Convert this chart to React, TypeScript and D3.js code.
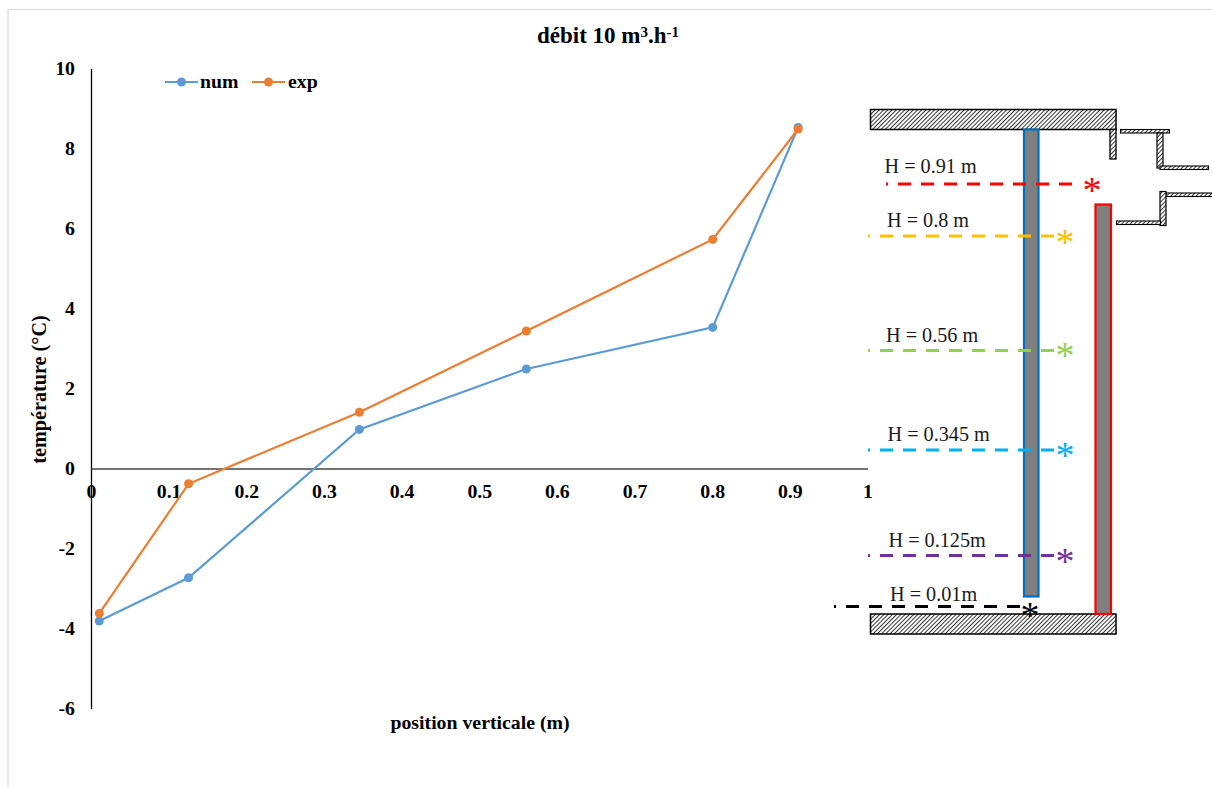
import React from "react";
import * as d3 from "d3";

const positions = [0.01, 0.125, 0.345, 0.56, 0.8, 0.91];
const numValues = [-3.8, -2.72, 0.99, 2.5, 3.54, 8.54];
const expValues = [-3.61, -0.37, 1.42, 3.45, 5.74, 8.5];
const xTicks = [0, 0.1, 0.2, 0.3, 0.4, 0.5, 0.6, 0.7, 0.8, 0.9, 1];
const yTicks = [-6, -4, -2, 0, 2, 4, 6, 8, 10];
const seriesNames = ["num", "exp"];
const gaugeLabels = ["H = 0.91 m", "H = 0.8 m", "H = 0.56 m", "H = 0.345 m", "H = 0.125m", "H = 0.01m"];

const NUM_COLOR = "#5b9bd5";
const EXP_COLOR = "#ed7d31";
const SERIF = "'Liberation Serif', serif";
const gaugeColors = ["#ff0000", "#ffc000", "#92d050", "#00b0f0", "#7030a0", "#000000"];
// layout of the test-cell sketch: [x1, x2, y, labelX, labelY, starX, starY]
const gaugeLayout = [
  [886, 1074, 184, 884.5, 173, 1092, 203],
  [868, 1054, 236, 887, 227, 1065, 255],
  [868, 1054, 350.5, 886, 342, 1065, 368],
  [868, 1054, 450, 887.5, 441, 1065, 468],
  [868, 1056, 555.5, 888.5, 547, 1065, 574],
  [834, 1022, 606.5, 890, 601, 1030, 628],
];
// hatched walls: [x, y, w, h, strokeWidth]
const walls = [
  [870.5, 109.5, 245.5, 20, 1.5],
  [870.5, 614, 245.5, 20, 1.5],
  [1110, 129.5, 6, 29.5, 1.3],
  [1120.5, 129.5, 49, 3.5, 1.1],
  [1157, 133, 6, 35, 1.2],
  [1160, 166, 48.5, 3.5, 1.1],
  [1166, 193, 47, 3.5, 1.1],
  [1160, 191.5, 6, 34, 1.2],
  [1116.5, 221, 44, 3.5, 1.1],
];

export default function App() {
  const x = d3.scaleLinear().domain([0, 1]).range([91.5, 868]);
  const y = d3.scaleLinear().domain([-6, 10]).range([709, 69]);
  const line = d3.line<number>()
    .x((_, i) => x(positions[i]))
    .y((d) => y(d));
  const series = [
    { values: numValues, color: NUM_COLOR },
    { values: expValues, color: EXP_COLOR },
  ];
  const bold = { fontFamily: SERIF, fontWeight: 700, fontSize: 19.8, fill: "#000" } as const;
  return (
    <svg width={1212} height={787} style={{ position: "absolute", left: 0, top: 0, background: "#fff" }}>
      <defs>
        <pattern id="hatch" width={3} height={3} patternUnits="userSpaceOnUse" patternTransform="rotate(45)">
          <rect width={3} height={3} fill="#fff" />
          <line x1={0} y1={0} x2={0} y2={3} stroke="#111" strokeWidth={1.7} />
        </pattern>
      </defs>
      <path d="M8 787V9.5H1212" fill="none" stroke="#d9d9d9" strokeWidth={1.2} />

      <text x={537} y={43} {...bold} fontSize={23}>
        débit 10 m<tspan dy={-6} fontSize={15}>3</tspan><tspan dy={6}>.h</tspan><tspan dy={-6} fontSize={15}>-1</tspan>
      </text>

      <line x1={x(0)} x2={x(0)} y1={y(10)} y2={y(-6)} stroke="#000" strokeWidth={1.3} />
      <line x1={x(0)} x2={x(1)} y1={y(0)} y2={y(0)} stroke="#444" strokeWidth={1.3} />
      {yTicks.map((t) => (
        <text key={t} x={75} y={y(t) + 6} textAnchor="end" {...bold}>{t}</text>
      ))}
      {xTicks.map((t) => (
        <text key={t} x={x(t)} y={y(0) + 29} textAnchor="middle" {...bold}>{t}</text>
      ))}
      <text transform="translate(46,389.5) rotate(-90)" textAnchor="middle" {...bold} fontSize={20.2}>température (°C)</text>
      <text x={480} y={729} textAnchor="middle" {...bold}>position verticale (m)</text>

      {series.map((s) => (
        <g key={s.color}>
          <path d={line(s.values) ?? ""} fill="none" stroke={s.color} strokeWidth={2.2} />
          {s.values.map((v, i) => (
            <circle key={i} cx={x(positions[i])} cy={y(v)} r={4.5} fill={s.color} />
          ))}
        </g>
      ))}

      {seriesNames.map((name, i) => {
        const left = i === 0 ? 165 : 252;
        return (
          <g key={name}>
            <line x1={left} x2={left + 33} y1={82} y2={82} stroke={series[i].color} strokeWidth={2.2} />
            <circle cx={left + 16.5} cy={82} r={4.5} fill={series[i].color} />
            <text x={left + 35 + i} y={88} {...bold}>{name}</text>
          </g>
        );
      })}

      {walls.map(([wx, wy, w, h, sw], i) => (
        <rect key={i} x={wx} y={wy} width={w} height={h} fill="url(#hatch)" stroke="#000" strokeWidth={sw} />
      ))}
      <rect x={1024} y={129.5} width={14.5} height={467} fill="#7f7f7f" stroke="#0070c0" strokeWidth={2.2} />
      <rect x={1095.5} y={204.5} width={15.5} height={409.5} fill="#7f7f7f" stroke="#ff0000" strokeWidth={2.2} />

      {gaugeLabels.map((label, i) => {
        const [x1, x2, gy, lx, ly, sx, sy] = gaugeLayout[i];
        return (
          <g key={label}>
            <line x1={x1} x2={x2} y1={gy} y2={gy} stroke={gaugeColors[i]} strokeWidth={3} strokeDasharray="13 10" strokeDashoffset={11} />
            <text x={lx} y={ly} fontFamily={SERIF} fontSize={20.2} fill="#1a1a1a">{label}</text>
            <text x={sx} y={sy} textAnchor="middle" fontFamily={SERIF} fontSize={38} fill={gaugeColors[i]}>*</text>
          </g>
        );
      })}
    </svg>
  );
}
